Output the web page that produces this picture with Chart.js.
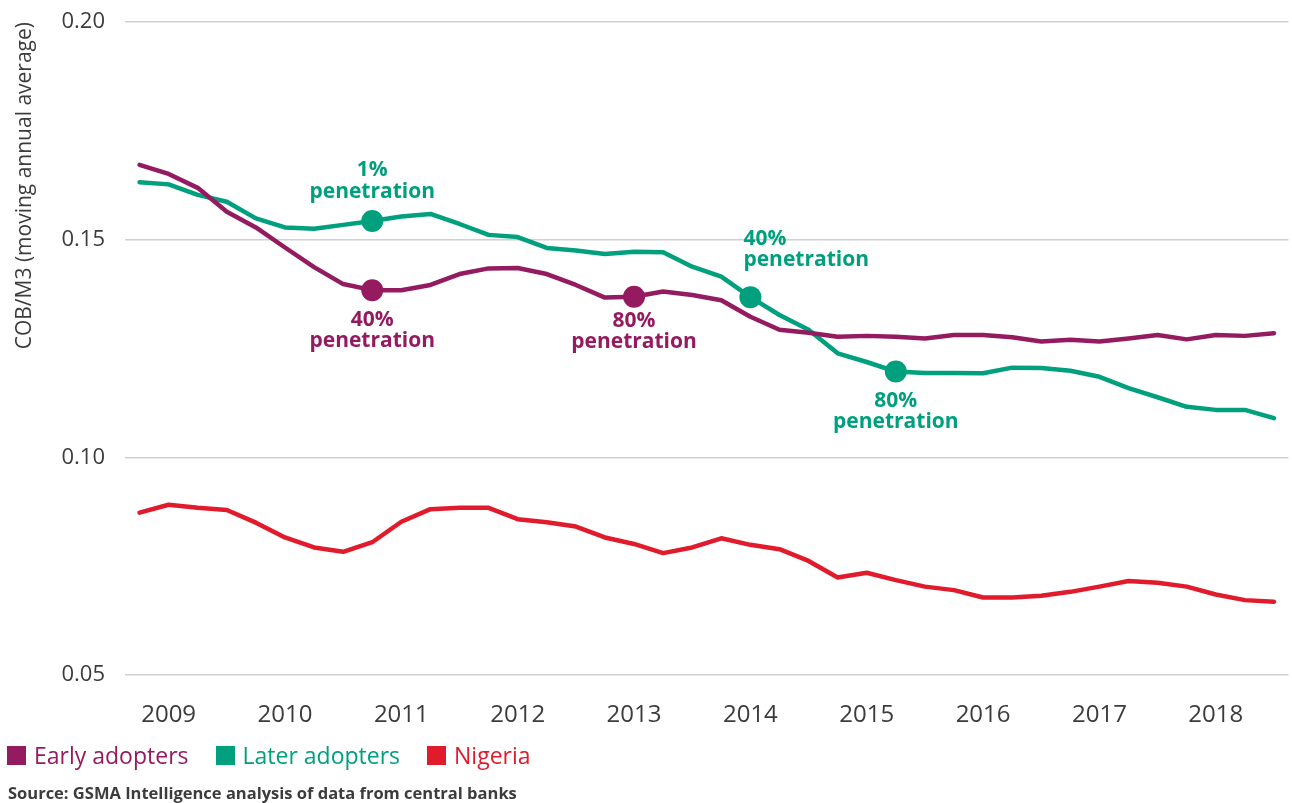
<!DOCTYPE html>
<html>
<head>
<meta charset="utf-8">
<script src="https://cdn.jsdelivr.net/npm/chart.js@4"></script>
<style>
  body { margin: 0; background: #fff; }
  #wrap { position: relative; width: 1292px; height: 803px; font-family: "Open Sans", sans-serif; }
  #chart { position: absolute; left: 0; top: 0; }
  #legend { position: absolute; left: 7px; top: 742px; display: flex; font-size: 23px; line-height: 26px; }
  #legend .item { display: flex; align-items: center; margin-right: 27px; }
  #legend .box { width: 19px; height: 19px; margin-right: 8px; }
  #source { position: absolute; left: 8px; top: 781px; font-size: 16.5px; font-weight: bold; color: #3c3c3c; }
</style>
</head>
<body>
<div id="wrap">
  <canvas id="chart" width="1292" height="803"></canvas>
  <div id="legend"></div>
  <div id="source">Source: GSMA Intelligence analysis of data from central banks</div>
</div>
<script>
// quarterly points, Q4 2008 to Q3 2018
const quarters = [
  '2008 Q4',
  '2009 Q1', '2009 Q2', '2009 Q3', '2009 Q4',
  '2010 Q1', '2010 Q2', '2010 Q3', '2010 Q4',
  '2011 Q1', '2011 Q2', '2011 Q3', '2011 Q4',
  '2012 Q1', '2012 Q2', '2012 Q3', '2012 Q4',
  '2013 Q1', '2013 Q2', '2013 Q3', '2013 Q4',
  '2014 Q1', '2014 Q2', '2014 Q3', '2014 Q4',
  '2015 Q1', '2015 Q2', '2015 Q3', '2015 Q4',
  '2016 Q1', '2016 Q2', '2016 Q3', '2016 Q4',
  '2017 Q1', '2017 Q2', '2017 Q3', '2017 Q4',
  '2018 Q1', '2018 Q2', '2018 Q3'
];

const earlyAdopters = [
  0.1672, 0.1651, 0.1619, 0.1564, 0.1528, 0.1482, 0.1437, 0.1398, 0.1384, 0.1384,
  0.1396, 0.1421, 0.1434, 0.1435, 0.1421, 0.1396, 0.1367, 0.1369, 0.1381, 0.1373,
  0.1361, 0.1323, 0.1293, 0.1286, 0.1277, 0.1279, 0.1277, 0.1273, 0.1281, 0.1281,
  0.1276, 0.1266, 0.1270, 0.1266, 0.1273, 0.1281, 0.1271, 0.1281, 0.1279, 0.1285
];

const laterAdopters = [
  0.1632, 0.1627, 0.1603, 0.1587, 0.1549, 0.1528, 0.1525, 0.1534, 0.1543, 0.1553,
  0.1559, 0.1536, 0.1511, 0.1506, 0.1481, 0.1475, 0.1467, 0.1472, 0.1471, 0.1438,
  0.1415, 0.1368, 0.1327, 0.1293, 0.1239, 0.1219, 0.1197, 0.1194, 0.1194, 0.1193,
  0.1206, 0.1205, 0.1199, 0.1185, 0.1159, 0.1138, 0.1116, 0.1109, 0.1109, 0.1090
];

const nigeria = [
  0.0873, 0.0891, 0.0884, 0.0879, 0.0850, 0.0816, 0.0793, 0.0783, 0.0805, 0.0852,
  0.0881, 0.0884, 0.0884, 0.0858, 0.0851, 0.0841, 0.0816, 0.0801, 0.0780, 0.0793,
  0.0814, 0.0799, 0.0789, 0.0762, 0.0724, 0.0735, 0.0718, 0.0703, 0.0695, 0.0678,
  0.0678, 0.0682, 0.0691, 0.0703, 0.0716, 0.0712, 0.0703, 0.0685, 0.0672, 0.0668
];

const yTicks = [0.05, 0.10, 0.15, 0.20];

// penetration milestones (index into quarters)
const earlyMilestones = [8, 17];
const laterMilestones = [8, 21, 26];

const PURPLE = '#951b60';
const TEAL = '#00a07e';
const RED = '#e11b2b';

// label placement for each milestone, relative to its point
const annotations = [
  { dataset: 1, index: 8,  lines: ['1%', 'penetration'],  align: 'center', dx: 0,  dy: [-45, -23] },
  { dataset: 0, index: 8,  lines: ['40%', 'penetration'], align: 'center', dx: 0,  dy: [36, 57] },
  { dataset: 0, index: 17, lines: ['80%', 'penetration'], align: 'center', dx: 0,  dy: [30, 51] },
  { dataset: 1, index: 21, lines: ['40%', 'penetration'], align: 'left',   dx: -7, dy: [-52, -31] },
  { dataset: 1, index: 26, lines: ['80%', 'penetration'], align: 'center', dx: 0,  dy: [35, 56] }
];

Chart.defaults.font.family = '"Open Sans", sans-serif';

function milestoneRadius(list) {
  return ctx => list.includes(ctx.dataIndex) ? 11 : 0;
}

const penetrationLabels = {
  id: 'penetrationLabels',
  afterDatasetsDraw(chart) {
    const c = chart.ctx;
    annotations.forEach(a => {
      const pt = chart.getDatasetMeta(a.dataset).data[a.index];
      c.save();
      c.font = 'bold 21px "Open Sans", sans-serif';
      c.fillStyle = chart.data.datasets[a.dataset].borderColor;
      c.textAlign = a.align;
      c.textBaseline = 'alphabetic';
      a.lines.forEach((t, k) => c.fillText(t, pt.x + a.dx, pt.y + a.dy[k]));
      c.restore();
    });
  }
};

const lineStyle = {
  borderWidth: 4.5,
  tension: 0,
  borderJoinStyle: 'round',
  borderCapStyle: 'round',
  pointBorderWidth: 0,
  pointHoverRadius: 0
};

const chart = new Chart(document.getElementById('chart').getContext('2d'), {
  type: 'line',
  data: {
    labels: quarters,
    datasets: [
      Object.assign({
        label: 'Early adopters', data: earlyAdopters,
        borderColor: PURPLE, backgroundColor: PURPLE, pointBackgroundColor: PURPLE,
        pointRadius: milestoneRadius(earlyMilestones)
      }, lineStyle),
      Object.assign({
        label: 'Later adopters', data: laterAdopters,
        borderColor: TEAL, backgroundColor: TEAL, pointBackgroundColor: TEAL,
        pointRadius: milestoneRadius(laterMilestones)
      }, lineStyle),
      Object.assign({
        label: 'Nigeria', data: nigeria,
        borderColor: RED, backgroundColor: RED, pointBackgroundColor: RED,
        pointRadius: 0
      }, lineStyle)
    ]
  },
  options: {
    responsive: false,
    animation: false,
    layout: { padding: { top: 22, right: 3, bottom: 73, left: 0 } },
    plugins: {
      legend: { display: false },
      tooltip: { enabled: false }
    },
    scales: {
      x: {
        offset: true,
        grid: { display: false },
        border: { display: false },
        ticks: {
          autoSkip: false,
          maxRotation: 0,
          padding: 18,
          color: '#3c3c3c',
          font: { size: 24 },
          callback: (v, i) => quarters[i].endsWith('Q1') ? quarters[i].slice(0, 4) : ''
        },
        afterFit: s => { s.height = 55; }
      },
      y: {
        min: 0.05,
        max: 0.20,
        // invisible tick marks keep the labels 20px off the plot without padding the top
        grid: { color: '#d0d0d0', lineWidth: 1.5, drawTicks: true, tickLength: 20, tickColor: 'rgba(0,0,0,0)' },
        border: { display: false },
        afterBuildTicks: s => { s.ticks = yTicks.map(v => ({ value: v })); },
        ticks: {
          padding: 0,
          color: '#3c3c3c',
          font: { size: 22 },
          callback: v => v.toFixed(2)
        },
        title: {
          display: true,
          text: 'COB/M3 (moving annual average)',
          align: 'end',
          color: '#3c3c3c',
          font: { size: 21 },
          padding: { top: 12, bottom: 0 }
        },
        afterFit: s => { s.width = 125; }
      }
    }
  },
  plugins: [penetrationLabels]
});

// HTML legend built from the chart's datasets
const legendEl = document.getElementById('legend');
chart.data.datasets.forEach(ds => {
  const item = document.createElement('div');
  item.className = 'item';
  const box = document.createElement('span');
  box.className = 'box';
  box.style.background = ds.borderColor;
  const txt = document.createElement('span');
  txt.textContent = ds.label;
  txt.style.color = ds.borderColor;
  item.appendChild(box);
  item.appendChild(txt);
  legendEl.appendChild(item);
});
</script>
</body>
</html>
